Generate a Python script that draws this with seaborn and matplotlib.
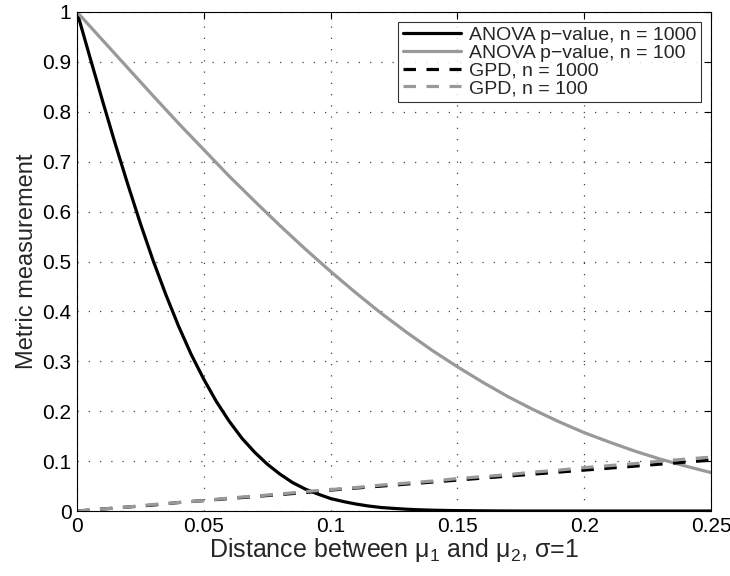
import matplotlib

matplotlib.use("Agg")
import matplotlib.pyplot as plt
import numpy as np
import pandas as pd
import seaborn as sns
from matplotlib.ticker import FormatStrFormatter

# distance between means: step 0.01 for most series, 0.005 for the steep one
distance = [round(0.01 * i, 2) for i in range(26)]
distance_fine = [round(0.005 * i, 3) for i in range(51)]

anova_n1000 = [1.0, 0.911, 0.823, 0.737, 0.655, 0.576, 0.502, 0.434, 0.371, 0.314,
               0.264, 0.219, 0.180, 0.146, 0.118, 0.094, 0.074, 0.057, 0.044, 0.034,
               0.025, 0.019, 0.014, 0.010, 0.007, 0.0052, 0.0036, 0.0025, 0.0017, 0.0012,
               0.0008, 0.0006, 0.0004, 0.0002, 0.0001, 0.0, 0.0, 0.0, 0.0, 0.0,
               0.0, 0.0, 0.0, 0.0, 0.0, 0.0, 0.0, 0.0, 0.0, 0.0, 0.0]
anova_n100 = [1.0, 0.944, 0.888, 0.832, 0.777, 0.724, 0.671, 0.621, 0.572, 0.525,
              0.480, 0.437, 0.396, 0.358, 0.322, 0.289, 0.258, 0.229, 0.203, 0.179,
              0.157, 0.138, 0.120, 0.104, 0.090, 0.077]
gpd_n1000 = [0.0, 0.004, 0.008, 0.012, 0.017, 0.021, 0.025, 0.029, 0.033, 0.037,
             0.042, 0.046, 0.050, 0.054, 0.058, 0.062, 0.066, 0.070, 0.074, 0.078,
             0.082, 0.086, 0.090, 0.094, 0.098, 0.102]
gpd_n100 = [0.0, 0.004, 0.008, 0.013, 0.017, 0.021, 0.026, 0.030, 0.034, 0.039,
            0.043, 0.047, 0.052, 0.056, 0.060, 0.065, 0.069, 0.073, 0.078, 0.082,
            0.087, 0.091, 0.095, 0.100, 0.104, 0.108]

dashed = (0, (3.9, 3.3))
series = [
    ("ANOVA p\u2212value, n = 1000", distance_fine, anova_n1000, "black", "-"),
    ("ANOVA p\u2212value, n = 100", distance, anova_n100, "#999999", "-"),
    ("GPD, n = 1000", distance, gpd_n1000, "black", dashed),
    ("GPD, n = 100", distance, gpd_n100, "#999999", dashed),
]

sns.set_style("white")
plt.rcParams["font.family"] = ["Liberation Sans", "DejaVu Sans"]
plt.rcParams["mathtext.fontset"] = "custom"
plt.rcParams["mathtext.rm"] = "Liberation Sans"
plt.rcParams["mathtext.it"] = "Liberation Sans"

fig = plt.figure(figsize=(7.3, 5.76), dpi=100)
ax = fig.add_axes([0.1055, 0.1128, 0.8685, 0.8664])

for label, xs, values, color, ls in series:
    df = pd.DataFrame({"distance": xs, "value": values})
    sns.lineplot(data=df, x="distance", y="value", ax=ax, color=color,
                 linestyle=ls, linewidth=2.3, label=label)

ax.set_xlim(0, 0.25)
ax.set_ylim(0, 1)
ax.set_xticks(np.arange(0, 0.2501, 0.05))
ax.set_yticks(np.arange(0, 1.0001, 0.1))
ax.xaxis.set_major_formatter(FormatStrFormatter("%g"))
ax.yaxis.set_major_formatter(FormatStrFormatter("%g"))
ax.tick_params(direction="in", length=5, width=0.8, top=True, right=True,
               labelsize=15, colors="black", pad=4)
ax.grid(True, linestyle=(0, (1, 8)), color="#444444", linewidth=0.9)
for s in ax.spines.values():
    s.set_color("black")
    s.set_linewidth(0.8)

ax.set_xlabel(r"Distance between $\mathregular{\mu_1}$ and $\mathregular{\mu_2}$, $\mathregular{\sigma}$=1",
              fontsize=18, labelpad=0)
ax.set_ylabel("Metric measurement", fontsize=17, labelpad=3)

leg = ax.legend(loc="upper right", fontsize=14, frameon=True, fancybox=False,
                edgecolor="black", handlelength=3.0, borderaxespad=0.5,
                labelspacing=0.0, borderpad=0.25, handletextpad=0.4)
leg.get_frame().set_linewidth(0.8)

fig.savefig("out.png", dpi=100)
